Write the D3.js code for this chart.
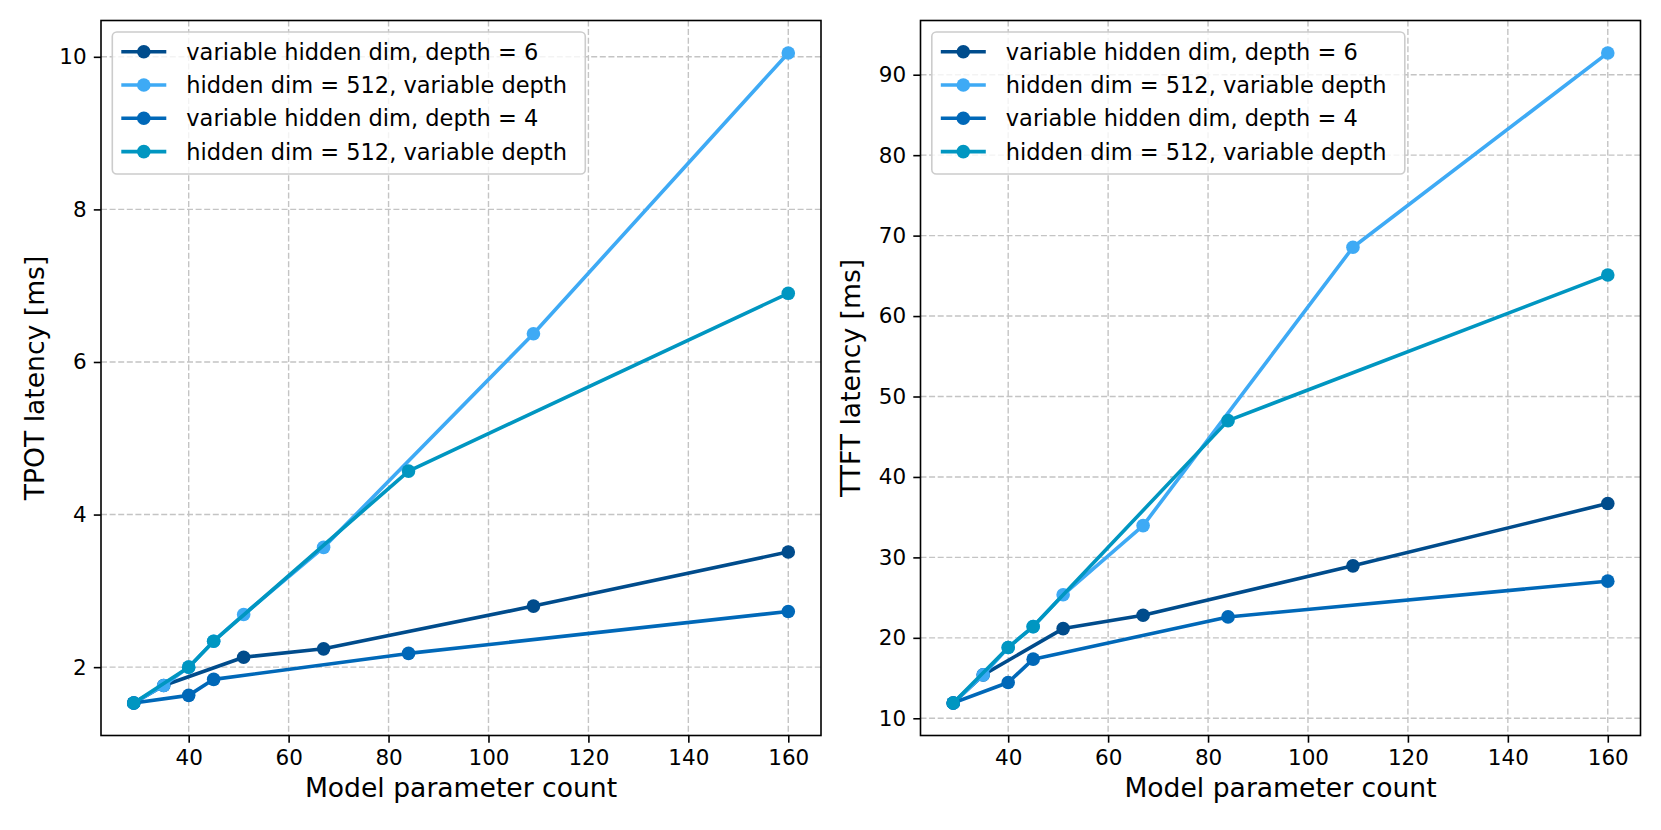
<!DOCTYPE html>
<html>
<head>
<meta charset="utf-8">
<script src="https://cdn.jsdelivr.net/npm/d3@7"></script>
<style>
  html, body { margin: 0; padding: 0; background: #fff; }
  svg { display: block; font-family: "DejaVu Sans", sans-serif; }
</style>
</head>
<body>
<div id="chart"></div>
<script>
// model parameter counts per series
const paramsHidden6 = [29, 35, 51, 67, 109, 160];
const paramsDepth512a = [29, 35, 40, 45, 51, 67, 109, 160];
const paramsHidden4 = [29, 40, 45, 84, 160];
const paramsDepth512b = [29, 40, 45, 84, 160];

// TPOT latency [ms]
const tpotHidden6 = [1.53, 1.76, 2.13, 2.24, 2.80, 3.51];
const tpotDepth512a = [1.53, 1.76, 2.00, 2.34, 2.69, 3.57, 6.37, 10.05];
const tpotHidden4 = [1.53, 1.63, 1.84, 2.18, 2.73];
const tpotDepth512b = [1.53, 2.00, 2.34, 4.57, 6.90];

// TTFT latency [ms]
const ttftHidden6 = [11.9, 15.4, 21.15, 22.8, 28.95, 36.7];
const ttftDepth512a = [11.9, 15.4, 18.8, 21.4, 25.35, 33.95, 68.55, 92.7];
const ttftHidden4 = [11.9, 14.45, 17.35, 22.6, 27.05];
const ttftDepth512b = [11.9, 18.8, 21.4, 47.0, 65.1];

const seriesNames = [
  'variable hidden dim, depth = 6',
  'hidden dim = 512, variable depth',
  'variable hidden dim, depth = 4',
  'hidden dim = 512, variable depth'
];
const seriesColors = ['#004c8c', '#3eaaf5', '#0068b8', '#0096c1'];
const xTicks = [40, 60, 80, 100, 120, 140, 160];
const tpotTicks = [2, 4, 6, 8, 10];
const ttftTicks = [10, 20, 30, 40, 50, 60, 70, 80, 90];

const W = 1661, H = 830;
const svg = d3.select('#chart').append('svg')
  .attr('width', W).attr('height', H);

function pad(ext) {
  const m = (ext[1] - ext[0]) * 0.05;
  return [ext[0] - m, ext[1] + m];
}

function drawPanel(cfg) {
  const {left, right, top, bottom} = cfg;
  const allX = [].concat(...cfg.xs);
  const allY = [].concat(...cfg.ys);
  const x = d3.scaleLinear().domain(pad(d3.extent(allX))).range([left, right]);
  const y = d3.scaleLinear().domain(pad(d3.extent(allY))).range([bottom, top]);
  const g = svg.append('g');

  // grid
  const grid = g.append('g').attr('stroke', '#c4c4c4').attr('stroke-width', 1.4)
    .attr('stroke-dasharray', '6,2.6');
  grid.selectAll('.gx').data(xTicks).enter().append('line')
    .attr('x1', d => x(d)).attr('x2', d => x(d)).attr('y1', top).attr('y2', bottom);
  grid.selectAll('.gy').data(cfg.yTicks).enter().append('line')
    .attr('x1', left).attr('x2', right).attr('y1', d => y(d)).attr('y2', d => y(d));

  // axes
  const ax = g.append('g').attr('transform', `translate(0,${bottom})`)
    .call(d3.axisBottom(x).tickValues(xTicks).tickSize(7.2).tickPadding(7.2).tickFormat(d3.format('d')));
  const ay = g.append('g').attr('transform', `translate(${left},0)`)
    .call(d3.axisLeft(y).tickValues(cfg.yTicks).tickSize(7.2).tickPadding(7.2).tickFormat(d3.format('d')));
  [ax, ay].forEach(a => {
    a.select('.domain').remove();
    a.selectAll('line').attr('stroke', '#000').attr('stroke-width', 1.6);
    a.selectAll('text').attr('fill', '#000')
      .style('font-family', '"DejaVu Sans", sans-serif').style('font-size', '21.5px');
  });

  // series
  cfg.xs.forEach((xs, i) => {
    const pts = xs.map((v, j) => [v, cfg.ys[i][j]]);
    const line = d3.line().x(d => x(d[0])).y(d => y(d[1]));
    g.append('path').datum(pts).attr('d', line)
      .attr('fill', 'none').attr('stroke', seriesColors[i]).attr('stroke-width', 3.6)
      .attr('stroke-linejoin', 'round').attr('stroke-linecap', 'square');
    g.selectAll('.m' + i).data(pts).enter().append('circle')
      .attr('cx', d => x(d[0])).attr('cy', d => y(d[1])).attr('r', 6.8)
      .attr('fill', seriesColors[i]);
  });

  // frame
  g.append('rect').attr('x', left).attr('y', top)
    .attr('width', right - left).attr('height', bottom - top)
    .attr('fill', 'none').attr('stroke', '#000').attr('stroke-width', 1.6);

  // labels
  g.append('text').attr('x', (left + right) / 2).attr('y', 797)
    .attr('text-anchor', 'middle').style('font-size', '26.6px').text('Model parameter count');
  g.append('text')
    .attr('transform', `translate(${cfg.ylabelX},${(top + bottom) / 2}) rotate(-90)`)
    .attr('text-anchor', 'middle').style('font-size', '26.6px').text(cfg.ylabel);

  // legend
  const lx = left + 11.3, ly = top + 11.5;
  const lg = g.append('g');
  lg.append('rect').attr('x', lx).attr('y', ly).attr('width', 473).attr('height', 142)
    .attr('rx', 4.5).attr('fill', 'rgba(255,255,255,0.8)')
    .attr('stroke', '#cccccc').attr('stroke-width', 1.6);
  seriesNames.forEach((name, i) => {
    const cy = ly + 19.7 + i * 33.3;
    lg.append('line').attr('x1', lx + 9).attr('x2', lx + 54).attr('y1', cy).attr('y2', cy)
      .attr('stroke', seriesColors[i]).attr('stroke-width', 3.6);
    lg.append('circle').attr('cx', lx + 31.5).attr('cy', cy).attr('r', 6.8).attr('fill', seriesColors[i]);
    lg.append('text').attr('x', lx + 74).attr('y', cy).attr('dy', '0.36em')
      .style('font-size', '22.5px').text(name);
  });
}

drawPanel({
  left: 101, right: 821, top: 20.5, bottom: 735.5,
  xs: [paramsHidden6, paramsDepth512a, paramsHidden4, paramsDepth512b],
  ys: [tpotHidden6, tpotDepth512a, tpotHidden4, tpotDepth512b],
  yTicks: tpotTicks, ylabel: 'TPOT latency [ms]', ylabelX: 44
});
drawPanel({
  left: 920.5, right: 1640.5, top: 20.5, bottom: 735.5,
  xs: [paramsHidden6, paramsDepth512a, paramsHidden4, paramsDepth512b],
  ys: [ttftHidden6, ttftDepth512a, ttftHidden4, ttftDepth512b],
  yTicks: ttftTicks, ylabel: 'TTFT latency [ms]', ylabelX: 860
});
</script>
</body>
</html>
